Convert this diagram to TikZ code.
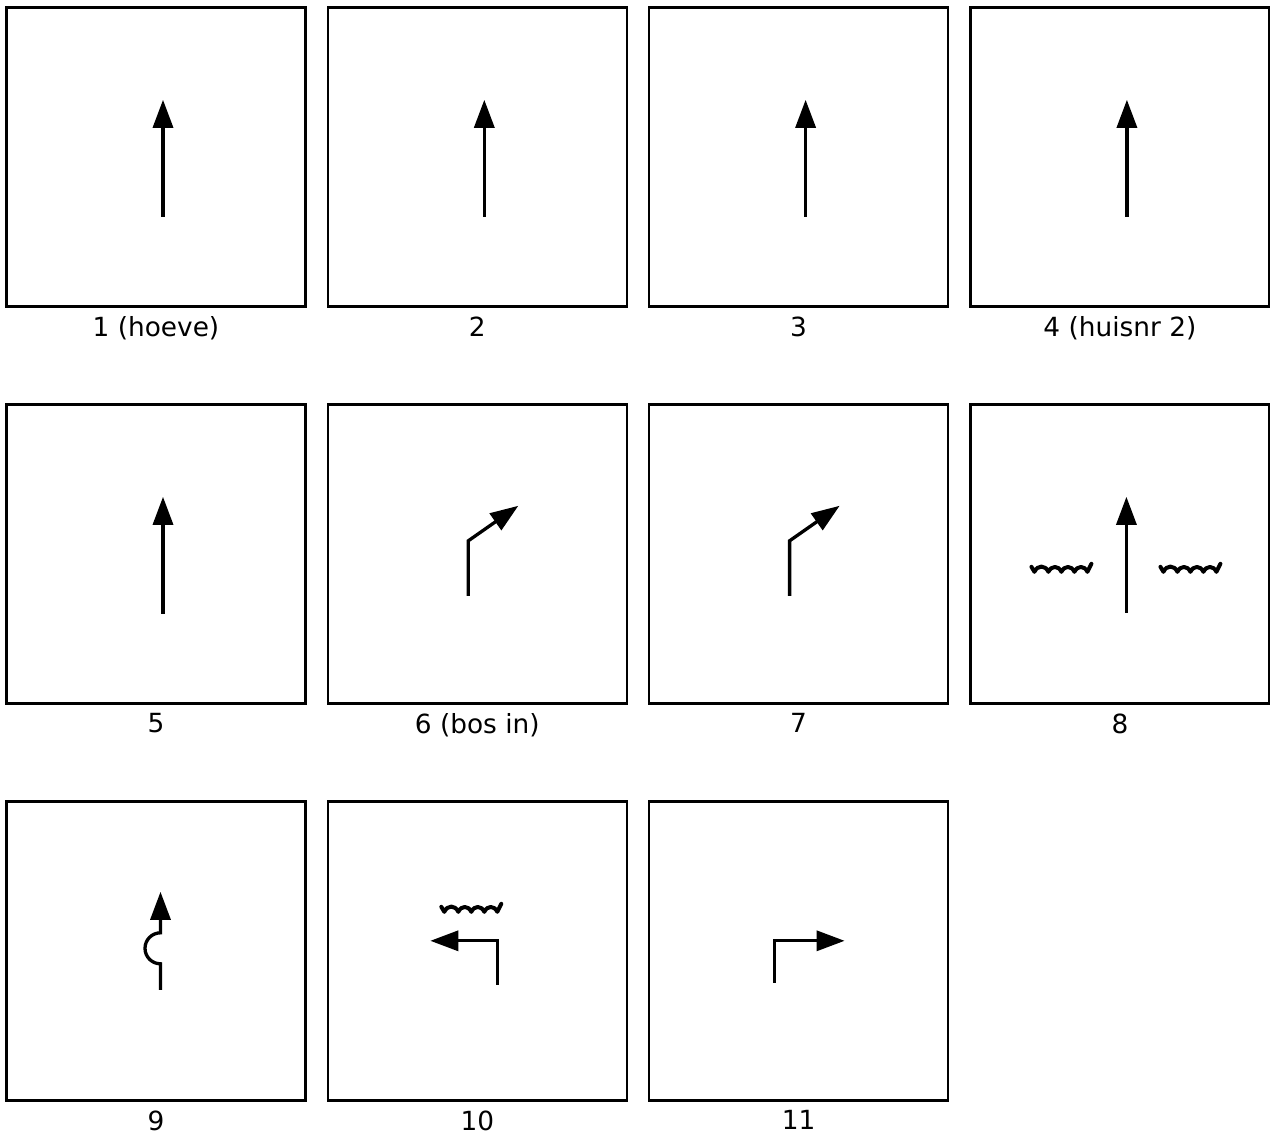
\documentclass[tikz,border=0pt]{standalone}
\usepackage{fontspec}
\setmainfont{DejaVu Sans}
\usetikzlibrary{arrows.meta, positioning}

\tikzset{
    tile/.style={draw, line width=0.25mm, minimum size=29.9mm, inner sep=0pt},
    lbl/.style={font=\fontsize{7.5}{9}\selectfont},
    arr/.style={line width=0.33mm, -{Triangle[length=2.8mm,width=2mm]}},
    wavy/.style={line width=0.4mm, line join=round, line cap=round},
    wave/.pic={
        \draw[wavy] (-30,0) -- (-27,-5)
            to[out=65,in=115,looseness=1.4] (-13,-5)
            to[out=65,in=115,looseness=1.4] (0,-5)
            to[out=65,in=115,looseness=1.4] (13,-5)
            to[out=65,in=115,looseness=1.4] (26,-5) -- (30,3);
    }
}

\begin{document}
\begin{tikzpicture}[x=0.1mm, y=0.1mm]
    % Fix the page size
    \useasboundingbox (0,0) rectangle (1270,-1131);

    % Draw the tiles and their captions
    \foreach \n/\x/\y/\txt in {1/156/-156.8/1 (hoeve), 2/477.3/-156.8/2, 3/798.6/-156.8/3,
            4/1119.9/-156.8/4 (huisnr 2), 5/156/-553.8/5, 6/477.3/-553.8/6 (bos in),
            7/798.6/-553.8/7, 8/1119.9/-553.8/8, 9/156/-950.8/9, 10/477.3/-950.8/10,
            11/798.6/-950.8/11} {
        \node[tile] (b\n) at (\x,\y) {};
        \node[lbl, below=-0.35mm of b\n] (l\n) {\txt};
    }

    % Straight on
    \foreach \n in {1,...,5}
        \draw[arr] ([shift={(7,-60)}]b\n.center) -- ([shift={(7,57)}]b\n.center);

    % Bear right
    \foreach \n in {6,7}
        \draw[arr] ([shift={(-9,-42)}]b\n.center) -- ([shift={(-9,13)}]b\n.center)
            -- ([shift={(41,48)}]b\n.center);

    % Straight on between the hedges
    \draw[arr] ([shift={(6.5,-59)}]b8.center) -- ([shift={(6.5,57)}]b8.center);
    \pic at ([shift={(-58.5,-13)}]b8.center) {wave};
    \pic at ([shift={(70.5,-13)}]b8.center) {wave};

    % Small detour
    \draw[arr] ([shift={(4.5,-39)}]b9.center) -- ([shift={(4.5,-13)}]b9.center)
        arc (-90:-270:15.5) -- ([shift={(4.5,59)}]b9.center);

    % Turn left
    \draw[arr] ([shift={(20,-34)}]b10.center) -- ([shift={(20,10)}]b10.center)
        -- ([shift={(-47,10)}]b10.center);
    \pic at ([shift={(-6,44)}]b10.center) {wave};

    % Turn right
    \draw[arr] ([shift={(-24,-32)}]b11.center) -- ([shift={(-24,10)}]b11.center)
        -- ([shift={(46,10)}]b11.center);
\end{tikzpicture}
\end{document}
